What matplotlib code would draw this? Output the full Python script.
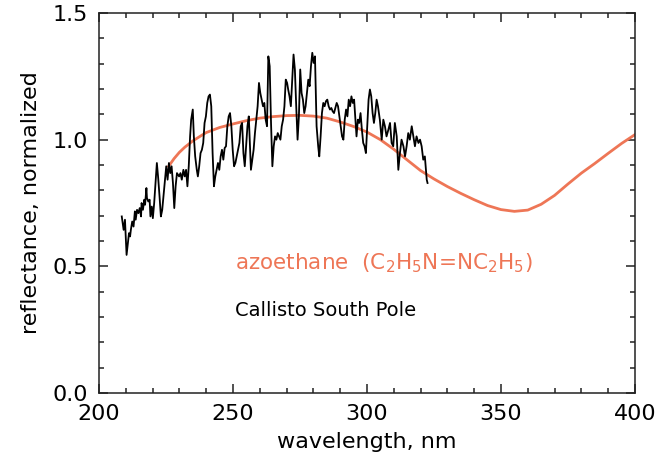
import matplotlib.pyplot as plt
from matplotlib.ticker import MultipleLocator

# Callisto South Pole spectrum (normalized reflectance)
callisto_nm = [
    208.5, 209.2, 209.7, 210.3, 211.2, 211.6, 211.9, 212.4, 212.9, 213.4,
    213.7, 214.2, 214.7, 215.2, 215.7, 215.9, 216.4, 216.9, 217.2, 217.7,
    217.9, 218.4, 218.9, 219.2, 219.7, 220.1, 220.6, 221.1, 221.6, 222.1,
    222.6, 223.1, 223.6, 224.4, 225.1, 225.6, 226.1, 226.6, 227.1, 227.6,
    228.1, 228.6, 229.1, 229.9,
    230.4, 230.9, 231.5, 232.0, 232.5, 233.0, 233.5, 234.0, 234.4, 235.0,
    235.4, 235.9, 236.5, 236.9, 237.4, 237.9, 238.4, 238.9, 239.4, 239.9,
    240.4, 240.9, 241.4, 241.9, 242.4, 242.9, 243.4, 243.9, 244.4, 244.9,
    245.4, 245.9, 246.4, 246.9, 247.4, 247.9, 248.4, 248.9, 249.4, 249.9,
    250.4, 250.9, 251.4, 251.9, 252.4, 252.9, 253.4, 253.9, 254.4, 254.9,
    255.4, 255.9,
    256.7, 257.2, 257.7, 258.2, 258.7, 259.2, 259.7, 260.2, 260.7, 261.2,
    261.7, 262.2, 262.7, 263.2, 263.7, 264.2, 264.7, 265.2, 265.7, 266.2,
    266.7, 267.2, 267.7, 268.2, 268.7, 269.2, 269.7, 270.2, 270.6, 271.1,
    271.6, 272.1, 272.6, 273.1, 273.6, 274.1, 274.6, 275.1, 275.6, 276.1,
    276.6, 277.1, 277.6, 278.1, 278.6, 279.1, 279.6, 280.1, 280.6,
    281.2, 281.8, 282.2, 282.7, 283.2, 283.7, 284.2, 284.7, 285.2, 285.7,
    286.2, 286.7, 287.2, 287.7, 288.2, 288.7, 289.2, 289.7, 290.2, 290.7,
    291.2, 291.7, 292.2, 292.7, 293.2, 293.7, 294.2, 294.7, 295.2, 295.6,
    296.1, 296.6, 297.1, 297.6, 298.1, 298.6, 299.1, 299.6, 300.1, 300.6,
    301.1, 301.6, 302.1, 302.6, 303.1, 303.6, 304.1, 304.8,
    305.5, 306.1, 306.7, 307.3, 308.0, 308.6, 309.2, 309.8, 310.4, 311.1,
    311.7, 312.3, 312.9, 313.6, 314.2, 314.8, 315.4, 316.0, 316.7, 317.3,
    317.9, 318.5, 319.2, 319.8, 320.4, 321.0, 321.6, 322.3, 322.6,
]
callisto_refl = [
    0.697, 0.644, 0.684, 0.545, 0.631, 0.618, 0.644, 0.677, 0.657, 0.717,
    0.684, 0.723, 0.710, 0.730, 0.697, 0.750, 0.723, 0.763, 0.743, 0.809,
    0.770, 0.756, 0.763, 0.697, 0.736, 0.690, 0.750, 0.829, 0.908, 0.848,
    0.776, 0.697, 0.723, 0.816, 0.895, 0.842, 0.908, 0.868, 0.895, 0.829,
    0.730, 0.816, 0.868, 0.855,
    0.868, 0.842, 0.881, 0.855, 0.881, 0.816, 0.895, 1.013, 1.079, 1.119,
    1.013, 0.934, 0.881, 0.855, 0.895, 0.947, 0.960, 0.987, 1.066, 1.092,
    1.145, 1.171, 1.178, 1.132, 0.947, 0.816, 0.855, 0.881, 0.908, 0.881,
    0.934, 0.960, 0.921, 0.967, 0.974, 1.053, 1.092, 1.105, 1.053, 0.960,
    0.895, 0.908, 0.934, 0.960, 0.987, 1.053, 1.066, 0.947, 0.895, 0.974,
    1.053, 1.092,
    0.881, 0.921, 0.960, 1.026, 1.079, 1.132, 1.224, 1.184, 1.158, 1.132,
    1.145, 1.079, 1.053, 1.329, 1.290, 1.066, 0.895, 0.974, 1.013, 1.000,
    1.026, 1.013, 1.000, 1.053, 1.079, 1.132, 1.237, 1.224, 1.198, 1.171,
    1.132, 1.237, 1.336, 1.277, 1.132, 1.000, 1.092, 1.277, 1.184, 1.158,
    1.105, 1.132, 1.184, 1.237, 1.211, 1.290, 1.343, 1.303, 1.329,
    1.053, 0.974, 0.934, 1.013, 1.105, 1.145, 1.132, 1.152, 1.158, 1.132,
    1.119, 1.125, 1.112, 1.105, 1.125, 1.145, 1.132, 1.092, 1.053, 1.013,
    1.000, 1.079, 1.119, 1.092, 1.158, 1.132, 1.171, 1.145, 1.158, 1.092,
    1.013, 1.079, 1.066, 1.105, 1.040, 0.987, 0.974, 0.947, 1.053, 1.158,
    1.198, 1.171, 1.105, 1.066, 1.105, 1.158, 1.132, 1.079,
    1.000, 1.079, 1.053, 1.013, 1.040, 1.066, 0.987, 0.974, 1.066, 1.013,
    0.881, 0.947, 1.000, 0.974, 0.934, 0.974, 1.026, 1.000, 1.053, 1.013,
    0.974, 1.013, 0.987, 1.000, 0.974, 0.921, 0.934, 0.842, 0.829,
]

# azoethane laboratory spectrum (normalized)
azo_nm = [226, 228, 230, 232, 235, 238, 240, 245, 250, 255, 260, 265, 270,
          275, 280, 285, 290, 295, 300, 305, 310, 315, 320, 325, 330, 335,
          340, 345, 350, 355, 360, 365, 370, 375, 380, 385, 390, 395, 400]
azo_refl = [0.895, 0.925, 0.950, 0.970, 0.995, 1.015, 1.028, 1.048, 1.062,
            1.075, 1.085, 1.091, 1.095, 1.096, 1.093, 1.085, 1.070, 1.052,
            1.030, 1.000, 0.962, 0.920, 0.878, 0.845, 0.815, 0.788, 0.763,
            0.740, 0.724, 0.717, 0.722, 0.745, 0.780, 0.825, 0.868, 0.906,
            0.946, 0.985, 1.020]

orange = "#EE7656"

fig = plt.figure(figsize=(6.71, 4.63), dpi=100)
ax = fig.add_axes([0.1475, 0.1512, 0.7988, 0.8207])

ax.plot(azo_nm, azo_refl, color=orange, lw=2.0)
ax.plot(callisto_nm, callisto_refl, color="black", lw=1.3)

ax.set_xlim(200, 400)
ax.set_ylim(0.0, 1.5)
ax.xaxis.set_major_locator(MultipleLocator(50))
ax.xaxis.set_minor_locator(MultipleLocator(10))
ax.yaxis.set_major_locator(MultipleLocator(0.5))
ax.yaxis.set_minor_locator(MultipleLocator(0.1))
ax.yaxis.set_major_formatter(plt.FormatStrFormatter("%.1f"))

ax.tick_params(which="both", direction="in", top=True, right=True,
               labelsize=16, width=1.1, color="#222222")
ax.tick_params(which="major", length=6.5, pad=8)
ax.tick_params(which="minor", length=3.5)
for s in ax.spines.values():
    s.set_linewidth(1.1)
    s.set_color("#222222")

# keep the end labels inside the frame height
ylabels = ax.get_yticklabels()
ylabels[0].set_va("bottom")
ylabels[-1].set_va("top")

ax.set_xlabel("wavelength, nm", fontsize=16, labelpad=6)
ax.set_ylabel("reflectance, normalized", fontsize=16, labelpad=8)

ax.text(250.7, 0.514, r"azoethane  (C$_2$H$_5$N=NC$_2$H$_5$)",
        color=orange, fontsize=15.5, va="center", ha="left")
ax.text(250.7, 0.324, "Callisto South Pole", color="black",
        fontsize=14, va="center", ha="left")

fig.savefig("out.png", dpi=100)
